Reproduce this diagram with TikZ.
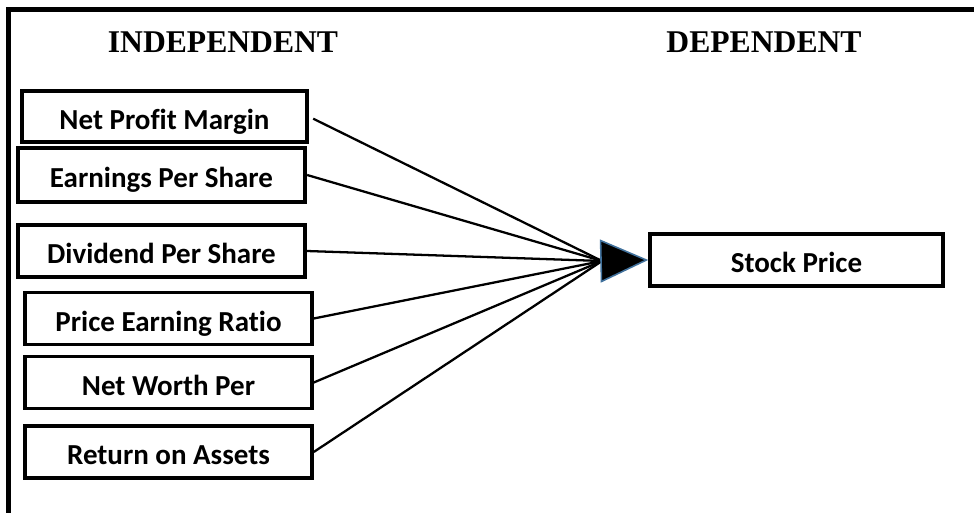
\documentclass[tikz,border=0pt]{standalone}
\usepackage{fontspec}
\setmainfont{Liberation Serif}
\newfontfamily\boxfont[Ligatures=CommonOff]{Carlito}
\usetikzlibrary{arrows.meta}
\definecolor{tipblue}{HTML}{41719C}

\begin{document}
\begin{tikzpicture}[
    factor/.style={rectangle, draw, line width=2pt, minimum width=5.74cm, minimum height=1.04cm, inner sep=0pt, text height=0.52cm, text depth=0cm, font=\boxfont\fontsize{16.5}{19}\selectfont\bfseries},
    heading/.style={anchor=base, font=\fontsize{18}{21}\selectfont\bfseries},
    link/.style={line width=1.3pt},
    bigtip/.style={-{Triangle[length=0.96cm, width=0.86cm, fill=black]}, draw=tipblue, line width=0.9pt}
]
\useasboundingbox (0,0) rectangle (19.48,-10.26);

% Frame
\draw[line width=2.8pt] (0.17,-11) -- (0.17,-0.19) -- (20,-0.19);

% Headings
\node[heading] (indep) at (4.46,-1.06) {INDEPENDENT};
\node[heading] (dep) at (15.28,-1.06) {DEPENDENT};

% Independent variables
\node[factor, minimum width=5.7cm, minimum height=1.02cm] (npm) at (3.29,-2.33) {Net Profit Margin};
\node[factor, minimum height=1.08cm, line width=2.4pt] (eps) at (3.23,-3.5) {Earnings Per Share};
\node[factor] (dps) at (3.23,-5.02) {Dividend Per Share};
\node[factor] (per) at (3.37,-6.37) {Price Earning Ratio};
\node[factor] (nwp) at (3.37,-7.65) {Net Worth Per};
\node[factor] (roa) at (3.37,-9.04) {Return on Assets};

% Dependent variable
\node[factor, minimum width=5.86cm] (price) at (15.93,-5.2) {Stock Price};

% Lines into the arrow
\coordinate (hub) at (12.04,-5.22);
\draw[link, shorten <=0.1cm] (npm.east) -- (hub);
\draw[link] (eps.east) -- (hub);
\draw[link] (dps.east) -- (hub);
\draw[link] (per.east) -- (hub);
\draw[link] (nwp.east) -- (hub);
\draw[link] (roa.east) -- (hub);

% Arrow to stock price
\draw[bigtip] (hub) -- (price.west);

\end{tikzpicture}
\end{document}
